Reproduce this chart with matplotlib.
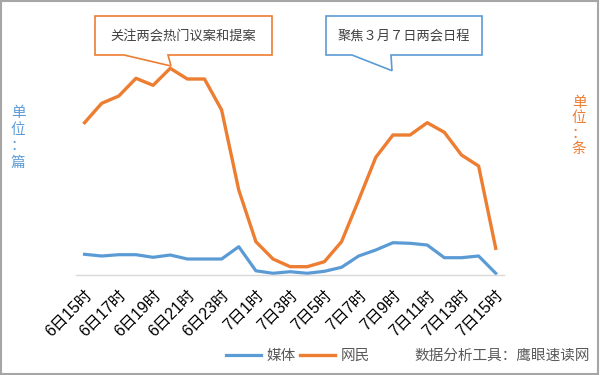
import matplotlib.pyplot as plt
from matplotlib.patches import Polygon, Rectangle

plt.rcParams["font.family"] = ["Noto Sans CJK SC", "DejaVu Sans"]

hours = [
    "6日15时", "6日16时", "6日17时", "6日18时", "6日19时", "6日20时", "6日21时",
    "6日22时", "6日23时", "7日0时", "7日1时", "7日2时", "7日3时", "7日4时",
    "7日5时", "7日6时", "7日7时", "7日8时", "7日9时", "7日10时", "7日11时",
    "7日12时", "7日13时", "7日14时", "7日15时",
]
media = [21, 19.3, 20.6, 20.6, 18, 20.3, 16.3, 16.3, 16.3, 28.6, 4.5, 2, 3.6,
         2, 4, 8, 19.3, 25.3, 32.6, 32, 30.3, 17.6, 17.6, 19.3, 2]
netizens = [152.6, 172, 179.3, 197, 190, 207, 196.3, 196.3, 165.3, 85.3, 33.6,
            16.3, 8.6, 8.6, 13.6, 33.6, 75.3, 118, 140.3, 140.3, 152.6, 143,
            120.3, 109.3, 27]

BLUE = "#5B9BD5"
ORANGE = "#ED7D31"
W, H = 600, 375


def fx(px):
    return px / W


def fy(py):
    return 1 - py / H


fig = plt.figure(figsize=(6, 3.75), dpi=100)
ax = fig.add_axes([fx(76), fy(275.3), fx(428.3), 235.3 / H])

x = list(range(len(hours)))
l1, = ax.plot(x, media, color=BLUE, lw=2.3, solid_joinstyle="round", label="媒体")
l2, = ax.plot(x, netizens, color=ORANGE, lw=2.4, solid_joinstyle="round", label="网民")

ax.set_xlim(-0.5, len(hours) - 0.5)
ax.set_ylim(0, 235.3)
for s in ["top", "right", "left"]:
    ax.spines[s].set_visible(False)
ax.spines["bottom"].set_color("#D9D9D9")
ax.spines["bottom"].set_linewidth(1)
ax.set_yticks([])
ax.set_xticks(x[::2])
ax.set_xticklabels(hours[::2], rotation=45, ha="right", rotation_mode="anchor",
                   fontsize=11.5, family=["Liberation Sans", "Noto Sans CJK SC"])
ax.tick_params(axis="x", length=0, pad=9)

ax.legend(handles=[l1, l2], loc="center", bbox_to_anchor=(fx(298), fy(355.7)),
          bbox_transform=fig.transFigure, ncol=2, frameon=False, fontsize=10.5,
          handlelength=2.4, handletextpad=0.35, columnspacing=0.3,
          labelcolor="#595959")

fig.text(fx(502), fy(355.7), "数据分析工具：鹰眼速读网", ha="center", va="center",
         fontsize=10.5, color="#595959")

# 单位
fig.text(fx(18), fy(138), "单\n位\n：\n篇", ha="center", va="center",
         fontsize=10.5, color=BLUE, linespacing=1.25)
fig.text(fx(579), fy(126), "单\n位\n：\n条", ha="center", va="center",
         fontsize=10.5, color=ORANGE, linespacing=1.15)

# callouts
box1 = [(95, 16), (272, 16), (272, 55), (168, 55), (171, 66), (124, 55), (95, 55)]
box2 = [(326, 16), (482, 16), (482, 55), (391, 55), (392, 70.7), (352, 55), (326, 55)]
for pts, col in [(box1, ORANGE), (box2, BLUE)]:
    fig.patches.append(Polygon([(fx(a), fy(b)) for a, b in pts], closed=True,
                               transform=fig.transFigure, facecolor="white",
                               edgecolor=col, lw=1.2, zorder=5))
fig.text(fx(183.5), fy(36), "关注两会热门议案和提案", ha="center", va="center",
         fontsize=9.5, color="#404040", zorder=6)
fig.text(fx(404), fy(36), "聚焦３月７日两会日程", ha="center", va="center",
         fontsize=9.5, color="#404040", zorder=6)

fig.patches.append(Rectangle((0.002, 0.003), 0.994, 0.995, transform=fig.transFigure,
                             fill=False, edgecolor="#A6A6A6", lw=1.5))

fig.savefig("out.png", dpi=100)
